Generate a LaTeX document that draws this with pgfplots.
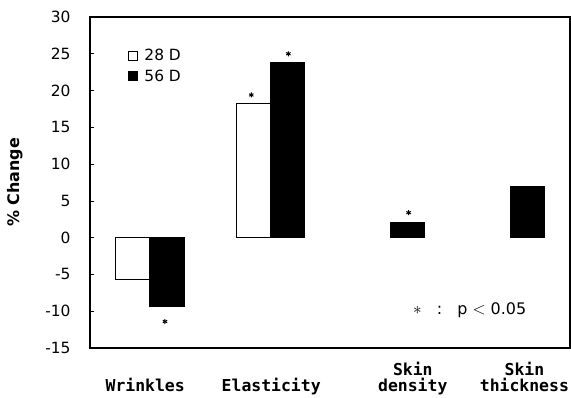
\documentclass[border=0pt]{standalone}
\usepackage{fontspec}
\setmainfont{DejaVu Sans}
\newfontfamily\monob{DejaVu Sans Mono}
\usepackage{pgfplots}
\pgfplotsset{compat=1.18}
\begin{document}
\begin{tikzpicture}
\begin{axis}[
  scale only axis,
  width=480bp, height=331bp,
  xmin=-0.5, xmax=3.5,
  ymin=-15, ymax=30,
  ytick={-15,-10,...,30},
  xtick={-0.04,1.01,2.19,3.12},
  xticklabels={\vphantom{Skin}\\Wrinkles, \vphantom{Skin}\\Elasticity, Skin\\density, Skin\\thickness},
  xticklabel style={align=center, anchor=north, yshift=-11bp, font=\monob\bfseries\fontsize{16.5}{16}\selectfont},
  x tick style={draw=none},
  ytick pos=left,
  tick align=inside,
  major tick length=4bp,
  y tick style={black, line width=0.6bp},
  yticklabel style={font=\fontsize{15.5}{16}\selectfont, xshift=-16bp},
  /pgf/number format/assume math mode=true,
  axis line style={line width=1.6bp},
  ylabel={\% Change},
  every axis y label/.style={at={(axis description cs:-0.155,0.5)}, rotate=90, anchor=center, font=\bfseries\fontsize{16}{16}\selectfont},
  legend style={at={(axis description cs:0.078,0.91)}, anchor=north west, draw=none, fill=none, font=\fontsize{15.5}{16}\selectfont, row sep=4bp, inner sep=0pt, legend cell align=left, /tikz/every odd column/.append style={column sep=5bp}},
  clip=false,
]
\addplot[ybar, bar width=34bp, bar shift=-17bp, draw=black, line width=1bp, fill=white,
  legend image code/.code={\draw[black, line width=0.8bp, fill=white] (0bp,-4.5bp) rectangle (9bp,4.5bp);}]
  coordinates {(0,-5.7) (1,18.3)};
\addlegendentry{28 D}
\addplot[ybar, bar width=34bp, bar shift=17bp, draw=black, line width=1bp, fill=black,
  legend image code/.code={\draw[black, line width=0.8bp, fill=black] (0bp,-4.5bp) rectangle (9bp,4.5bp);}]
  coordinates {(0,-9.3) (1,23.8) (2,2.0) (3,6.9)};
\addlegendentry{56 D}
\addplot[only marks, mark=asterisk, mark size=2.5bp, black, line width=1bp, forget plot]
  coordinates {(0.125,-11.4) (0.844,19.4) (1.153,25.0) (2.155,3.4)};
\node[anchor=west, font=\fontsize{16}{16}\selectfont, inner sep=0pt] at (axis cs:2.19,-9.8) {$\ast$\ \ \ :\ \ \ p $<$ 0.05};
\coordinate (ll) at (rel axis cs:0,0);
\coordinate (ur) at (rel axis cs:1,1);
\end{axis}
\pgfresetboundingbox
\path ([xshift=-90bp, yshift=-50bp]ll) rectangle ([xshift=1bp, yshift=17bp]ur);
\end{tikzpicture}
\end{document}
